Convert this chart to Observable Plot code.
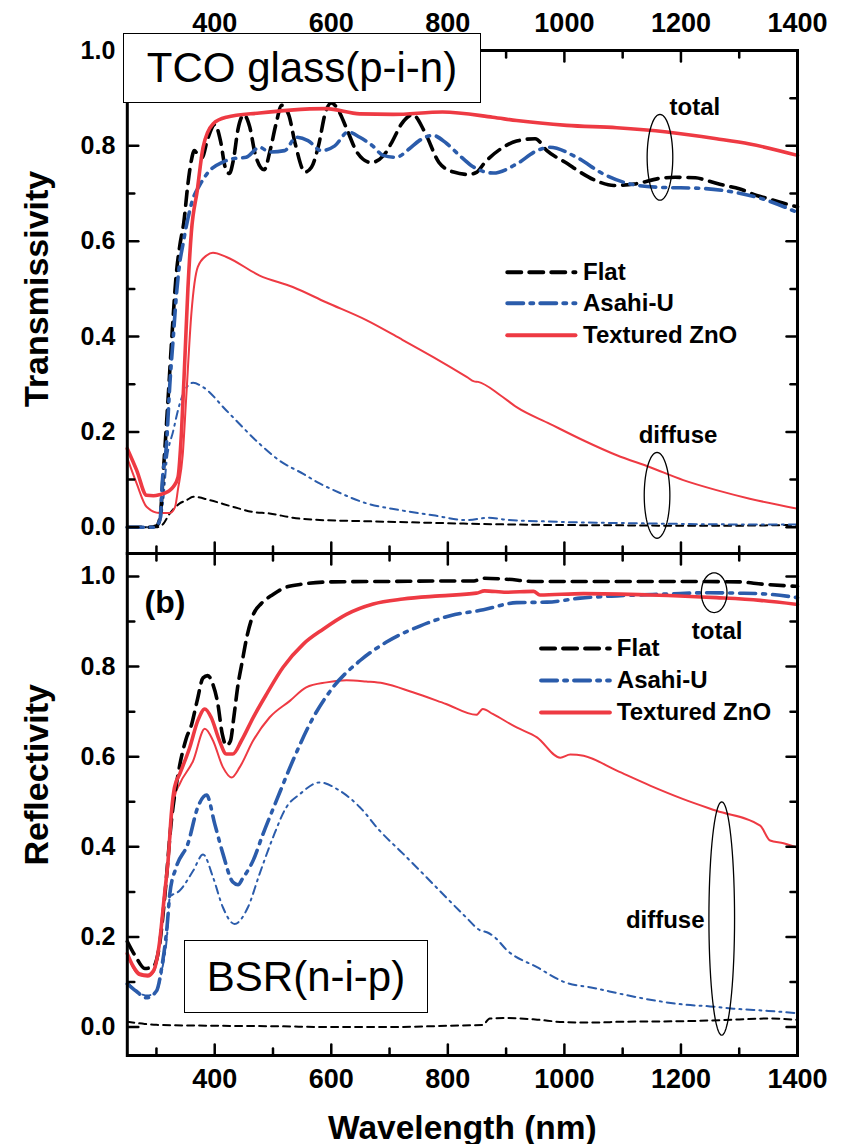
<!DOCTYPE html>
<html><head><meta charset="utf-8">
<script src="https://cdn.jsdelivr.net/npm/d3@7"></script>
<script src="https://cdn.jsdelivr.net/npm/@observablehq/plot@0.6"></script>
<style>
body{margin:0;background:#fff;}
#wrap{position:relative;width:847px;height:1144px;font-family:"Liberation Sans",Arial,sans-serif;}
#wrap svg{position:absolute;left:0;overflow:visible;}
.box{position:absolute;background:#fff;border:1.5px solid #000;box-sizing:border-box;display:flex;align-items:center;justify-content:center;font-size:42px;color:#000;font-family:"Liberation Sans",Arial,sans-serif;}
</style></head><body><div id="wrap"></div>
<script>
// ---------- tick labels ----------
const xLabels = [400, 600, 800, 1000, 1200, 1400];
const xMinor = [300, 500, 700, 900, 1100, 1300];
const yLabels = [0, 0.2, 0.4, 0.6, 0.8, 1.0];
const yMinor = [0.1, 0.3, 0.5, 0.7, 0.9];
const seriesNames = ["Flat", "Asahi-U", "Textured ZnO"];

// ---------- (a) transmissivity ----------
const tFlatTotalNm = [250,285,300,306,312,320,326,334,340,347,354,360,365,372,378,388,400,410,418,425,432,440,450,460,470,485,495,505,515,527,538,555,566,578,590,600,612,625,645,668,690,705,720,740,760,785,810,835,850,862,895,918,950,970,1005,1027,1060,1085,1120,1165,1190,1225,1245,1275,1300,1330,1350,1375,1400];
const tFlatTotal = [0,0,0.003,0.02,0.12,0.27,0.39,0.53,0.59,0.64,0.72,0.77,0.79,0.78,0.775,0.815,0.845,0.81,0.755,0.742,0.77,0.835,0.865,0.84,0.78,0.75,0.79,0.845,0.885,0.865,0.805,0.745,0.755,0.8,0.87,0.89,0.875,0.84,0.785,0.765,0.78,0.81,0.845,0.865,0.83,0.765,0.745,0.74,0.745,0.763,0.797,0.81,0.815,0.79,0.763,0.745,0.724,0.717,0.72,0.732,0.734,0.733,0.727,0.717,0.71,0.696,0.689,0.68,0.672];
const tAsahiTotalNm = [250,295,306,311,317,323,329,334,340,345,351,363,374,389,414,431,454,477,494,520,540,560,583,606,629,649,671,689,711,734,751,774,797,820,840,878,918,953,975,1021,1067,1113,1164,1233,1290,1347,1400];
const tAsahiTotal = [0,0,0.015,0.11,0.17,0.3,0.4,0.483,0.555,0.59,0.63,0.69,0.717,0.745,0.766,0.773,0.776,0.797,0.787,0.79,0.818,0.811,0.79,0.8,0.829,0.818,0.8,0.78,0.776,0.794,0.811,0.822,0.806,0.78,0.759,0.743,0.762,0.79,0.797,0.776,0.741,0.72,0.713,0.711,0.703,0.686,0.66];
const tZnoTotalNm = [250,266,283,295,305,320,329,337,343,349,354,360,370,380,397,420,477,530,591,649,706,791,877,918,1004,1090,1176,1261,1318,1400];
const tZnoTotal = [0.165,0.12,0.067,0.066,0.068,0.075,0.085,0.105,0.2,0.36,0.5,0.62,0.706,0.797,0.846,0.86,0.869,0.875,0.878,0.867,0.866,0.871,0.86,0.853,0.843,0.838,0.829,0.815,0.804,0.78];
const tFlatDiffNm = [250,300,310,323,340,352,363,391,431,466,494,534,569,650,750,900,1100,1250,1400];
const tFlatDiff = [0,0,0.005,0.029,0.05,0.057,0.064,0.057,0.043,0.032,0.029,0.02,0.016,0.013,0.01,0.006,0.004,0.003,0.005];
const tAsahiDiffNm = [250,298,306,312,317,329,340,352,363,380,420,477,511,552,580,604,661,718,775,833,870,900,975,1147,1300,1400];
const tAsahiDiff = [0,0,0.01,0.06,0.134,0.203,0.259,0.294,0.303,0.294,0.245,0.175,0.14,0.112,0.092,0.078,0.05,0.036,0.025,0.015,0.02,0.016,0.012,0.008,0.006,0.006];
const tZnoDiffNm = [250,266,283,305,323,332,337,345,351,360,371,386,397,420,477,534,591,661,718,775,833,845,852,890,918,975,1033,1090,1147,1204,1261,1318,1400];
const tZnoDiff = [0.145,0.092,0.043,0.03,0.03,0.043,0.08,0.15,0.27,0.449,0.546,0.57,0.576,0.567,0.528,0.504,0.472,0.434,0.396,0.357,0.315,0.306,0.305,0.277,0.252,0.217,0.182,0.151,0.126,0.099,0.078,0.06,0.039];

// ---------- (b) reflectivity ----------
const bFlatTotalNm = [250,265,280,295,305,315,325,337,351,360,370,380,388,397,405,413,420,427,433,440,447,455,466,480,500,520,550,600,700,800,845,860,900,950,1000,1100,1200,1300,1340,1400];
const bFlatTotal = [0.19,0.155,0.13,0.135,0.18,0.3,0.45,0.56,0.64,0.67,0.725,0.775,0.78,0.76,0.72,0.65,0.625,0.635,0.69,0.76,0.81,0.865,0.915,0.94,0.96,0.975,0.983,0.988,0.989,0.99,0.99,0.996,0.994,0.989,0.989,0.989,0.989,0.988,0.983,0.978];
const bAsahiTotalNm = [250,265,283,300,310,318,323,334,354,371,386,400,414,431,440,448,466,483,506,534,569,603,649,694,752,804,861,918,970,1027,1090,1176,1250,1296,1347,1400];
const bAsahiTotal = [0.096,0.08,0.065,0.08,0.14,0.22,0.296,0.355,0.407,0.488,0.515,0.451,0.385,0.322,0.316,0.33,0.37,0.429,0.503,0.591,0.687,0.754,0.813,0.854,0.89,0.913,0.926,0.942,0.943,0.952,0.957,0.961,0.964,0.963,0.961,0.953];
const bZnoTotalNm = [250,260,271,285,295,305,314,320,326,331,340,357,371,383,394,408,420,431,446,466,489,517,552,586,626,672,723,786,849,863,900,947,958,1033,1147,1261,1336,1400];
const bZnoTotal = [0.163,0.135,0.118,0.115,0.125,0.185,0.296,0.37,0.48,0.532,0.562,0.62,0.68,0.706,0.687,0.636,0.606,0.606,0.636,0.687,0.739,0.798,0.85,0.883,0.916,0.939,0.95,0.957,0.963,0.968,0.965,0.967,0.959,0.962,0.959,0.953,0.947,0.938];
const bFlatDiffNm = [250,280,300,400,500,600,700,800,860,872,900,950,1000,1050,1100,1200,1300,1350,1400];
const bFlatDiff = [0.012,0.007,0.005,0.003,0.002,0,0,0.003,0.005,0.019,0.02,0.017,0.011,0.01,0.012,0.013,0.017,0.019,0.016];
const bAsahiDiffNm = [250,265,285,300,310,318,323,340,363,380,397,414,434,457,477,500,523,546,580,614,649,683,723,763,797,831,855,868,880,902,953,1000,1050,1110,1160,1205,1250,1290,1350,1400];
const bAsahiDiff = [0.1,0.08,0.07,0.08,0.13,0.2,0.288,0.303,0.347,0.383,0.333,0.266,0.229,0.266,0.34,0.421,0.488,0.517,0.543,0.525,0.488,0.436,0.385,0.333,0.288,0.244,0.215,0.21,0.2,0.17,0.133,0.1,0.087,0.07,0.058,0.05,0.046,0.041,0.036,0.031];
const bZnoDiffNm = [250,271,285,295,305,314,320,326,331,340,363,383,397,414,429,443,466,494,529,557,592,626,660,689,740,797,849,860,877,918,953,993,1010,1033,1090,1147,1204,1261,1336,1353,1376,1400];
const bZnoDiff = [0.16,0.115,0.112,0.122,0.18,0.29,0.36,0.46,0.51,0.54,0.591,0.662,0.636,0.577,0.554,0.577,0.636,0.687,0.724,0.754,0.765,0.77,0.767,0.763,0.743,0.717,0.693,0.706,0.695,0.665,0.643,0.598,0.605,0.602,0.569,0.536,0.506,0.48,0.447,0.414,0.408,0.398];

// ---------- styling ----------
const RED = "#ee3a43", BLUE = "#2b5cab", BLACK = "#000000";
const FONT = "'Liberation Sans', Arial, Helvetica, sans-serif";
const W = 847, ML = 126.8, MR = 50;
const styleOf = {
  "Flat":         {stroke: BLACK, thick: "14,8",     thin: "7,5"},
  "Asahi-U":      {stroke: BLUE,  thick: "16,7,3,7", thin: "8,5,2,5"},
  "Textured ZnO": {stroke: RED,   thick: null,       thin: null}
};
const pts = (nm, v) => nm.map((x, i) => ({x, y: v[i]}));
const tickShape = {draw(ctx, l) { ctx.moveTo(0, 0); ctx.lineTo(0, -l); }};

function curve(nm, v, name, kind) {
  const s = styleOf[name];
  const o = {x: "x", y: "y", stroke: s.stroke, curve: "monotone-x",
    strokeWidth: kind === "thick" ? 3.6 : 2, strokeLinejoin: "round"};
  const d = s[kind];
  if (d) o.strokeDasharray = d;
  return Plot.line(pts(nm, v), o);
}
function frameTicks() {
  const o = {shape: tickShape, anchor: "start", stroke: BLACK, strokeWidth: 2.5};
  return [
    Plot.vector(xLabels, {x: d => d, frameAnchor: "bottom", rotate: 0, length: 11, ...o}),
    Plot.vector(xMinor,  {x: d => d, frameAnchor: "bottom", rotate: 0, length: 7, ...o}),
    Plot.vector(xLabels, {x: d => d, frameAnchor: "top", rotate: 180, length: 11, ...o}),
    Plot.vector(xMinor,  {x: d => d, frameAnchor: "top", rotate: 180, length: 7, ...o}),
    Plot.vector(yLabels, {y: d => d, frameAnchor: "left", rotate: 90, length: 11, ...o}),
    Plot.vector(yMinor,  {y: d => d, frameAnchor: "left", rotate: 90, length: 7, ...o}),
    Plot.vector(yLabels, {y: d => d, frameAnchor: "right", rotate: -90, length: 11, ...o}),
    Plot.vector(yMinor,  {y: d => d, frameAnchor: "right", rotate: -90, length: 7, ...o})
  ];
}
function legend(x0, x1, xt, rows) {
  const marks = [];
  seriesNames.forEach((name, i) => {
    const s = styleOf[name];
    const o = {x: "x", y: "y", stroke: s.stroke, strokeWidth: 4};
    if (s.thick) o.strokeDasharray = s.thick;
    marks.push(Plot.line([{x: x0, y: rows[i]}, {x: x1, y: rows[i]}], o));
  });
  marks.push(Plot.text(seriesNames, {x: xt, y: (d, i) => rows[i], text: d => d, textAnchor: "start",
    fontSize: 24, fontWeight: "bold", fill: BLACK}));
  return marks;
}
function ellipse(cx, cy, rx, ry) {
  return Plot.line(d3.range(0, 361, 5).map(a => ({x: cx + rx * Math.cos(a * Math.PI / 180), y: cy + ry * Math.sin(a * Math.PI / 180)})),
    {x: "x", y: "y", stroke: BLACK, strokeWidth: 1.3, curve: "linear"});
}
function note(x, y, t) {
  return Plot.text([t], {x, y, text: d => d, fontSize: 24, fontWeight: "bold", fill: BLACK});
}
function yTitle(t, y) {
  return Plot.text([t], {frameAnchor: "left", y, dx: -90, rotate: -90, text: d => d, textAnchor: "middle",
    lineAnchor: "middle", fontSize: 34, fontWeight: "bold", fill: BLACK});
}

const commonStyle = {fontFamily: FONT, background: "transparent", overflow: "visible", color: "black"};
const xs = {domain: [250, 1400]};
const xFmt = d3.format("d");
const yFmt = d3.format(".1f");

// top panel
const topPlot = Plot.plot({
  width: W, height: 553, marginLeft: ML, marginRight: MR, marginTop: 50, marginBottom: 0,
  style: commonStyle,
  x: xs, y: {domain: [-0.055, 1.0]},
  marks: [
    curve(tFlatDiffNm, tFlatDiff, "Flat", "thin"),
    curve(tAsahiDiffNm, tAsahiDiff, "Asahi-U", "thin"),
    curve(tZnoDiffNm, tZnoDiff, "Textured ZnO", "thin"),
    curve(tFlatTotalNm, tFlatTotal, "Flat", "thick"),
    curve(tAsahiTotalNm, tAsahiTotal, "Asahi-U", "thick"),
    curve(tZnoTotalNm, tZnoTotal, "Textured ZnO", "thick"),
    ...legend(902, 1019, 1032, [0.535, 0.47, 0.403]),
    note(1224, 0.88, "total"), ellipse(1164, 0.776, 22, 0.09),
    note(1195, 0.193, "diffuse"), ellipse(1159, 0.067, 22, 0.09),
    Plot.frame({stroke: BLACK, strokeWidth: 3}),
    ...frameTicks(),
    Plot.axisX({anchor: "top", ticks: xLabels, tickFormat: xFmt, tickSize: 0, tickPadding: 19, fontSize: 27, fontWeight: "bold", label: null}),
    Plot.axisY({anchor: "left", ticks: yLabels, tickFormat: yFmt, tickSize: 0, tickPadding: 12, fontSize: 25, fontWeight: "bold", label: null}),
    yTitle("Transmissivity", 0.5)
  ]
});
topPlot.style.top = "0px";

// bottom panel
const botPlot = Plot.plot({
  width: W, height: 591, marginLeft: ML, marginRight: MR, marginTop: 0, marginBottom: 89,
  style: commonStyle,
  x: xs, y: {domain: [-0.063, 1.051]},
  marks: [
    curve(bFlatDiffNm, bFlatDiff, "Flat", "thin"),
    curve(bAsahiDiffNm, bAsahiDiff, "Asahi-U", "thin"),
    curve(bZnoDiffNm, bZnoDiff, "Textured ZnO", "thin"),
    curve(bFlatTotalNm, bFlatTotal, "Flat", "thick"),
    curve(bAsahiTotalNm, bAsahiTotal, "Asahi-U", "thick"),
    curve(bZnoTotalNm, bZnoTotal, "Textured ZnO", "thick"),
    ...legend(960, 1078, 1090, [0.84, 0.769, 0.698]),
    note(1262, 0.879, "total"), ellipse(1257, 0.964, 22, 0.044),
    note(1173, 0.236, "diffuse"), ellipse(1270, 0.241, 22, 0.259),
    Plot.text(["(b)"], {x: 314.6, y: 0.941, text: d => d, fontSize: 32, fontWeight: "bold", fill: BLACK}),
    Plot.frame({stroke: BLACK, strokeWidth: 3}),
    ...frameTicks(),
    Plot.axisX({anchor: "bottom", ticks: xLabels, tickFormat: xFmt, tickSize: 0, tickPadding: 13, fontSize: 27, fontWeight: "bold", label: null}),
    Plot.axisY({anchor: "left", ticks: yLabels, tickFormat: yFmt, tickSize: 0, tickPadding: 12, fontSize: 25, fontWeight: "bold", label: null}),
    yTitle("Reflectivity", 0.56),
    Plot.text(["Wavelength (nm)"], {frameAnchor: "bottom", dy: 73, text: d => d, lineAnchor: "middle", textAnchor: "middle", fontSize: 33.5, fontWeight: "bold", fill: BLACK})
  ]
});
botPlot.style.top = "553px";

const wrap = document.getElementById("wrap");
wrap.appendChild(topPlot);
wrap.appendChild(botPlot);

function box(text, left, topPx, w, h) {
  const d = document.createElement("div");
  d.className = "box";
  d.style.left = left + "px"; d.style.top = topPx + "px";
  d.style.width = w + "px"; d.style.height = h + "px";
  d.textContent = text;
  wrap.appendChild(d);
}
box("TCO glass(p-i-n)", 123, 33, 358, 70);
box("BSR(n-i-p)", 184, 940, 244, 73);
</script></body></html>
